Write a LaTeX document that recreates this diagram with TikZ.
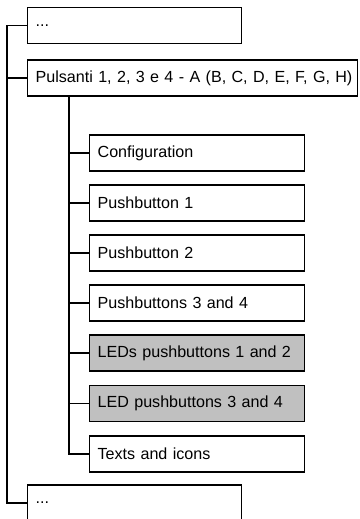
\documentclass[tikz,border=0pt]{standalone}
\usepackage{fontspec}
\setmainfont{Liberation Sans}
\usepackage{tikz}

\tikzset{
  menubox/.style={draw, line width=1.3pt, anchor=west, minimum height=36pt,
    inner xsep=8pt, inner ysep=0pt, align=left, text width=#1},
  menubox/.default=199pt,
  ledbox/.style={menubox, fill=ledgray},
  branch/.style={line width=1.3pt},
}
\definecolor{ledgray}{RGB}{192,192,192}

\begin{document}
\begin{tikzpicture}[x=1pt, y=-1pt, font=\fontsize{16.1}{19}\selectfont]
        \useasboundingbox (0,0) rectangle (359,519);
        % top level
        \node[menubox=198pt] (prev) at (27,25.5) {...};
        \node[menubox=314pt] (pulsanti) at (27,78) {\mbox{Pulsanti 1, 2, 3 e 4 - A (B, C, D, E, F, G, H)}};
        \node[menubox=198pt] (next) at (27,503) {...};
        % sub items
        \node[menubox] (config) at (89,153) {Configuration};
        \node[menubox] (push1) at (89,203) {Pushbutton 1};
        \node[menubox] (push2) at (89,253) {Pushbutton 2};
        \node[menubox] (push34) at (89,303) {Pushbuttons 3 and 4};
        \node[ledbox] (led12) at (89,353) {\mbox{LEDs pushbuttons 1 and 2}};
        \node[ledbox] (led34) at (89,403.5) {LED pushbuttons 3 and 4};
        \node[menubox] (texts) at (89,454) {Texts and icons};
        % tree lines
        \coordinate (trunk) at (7,0);
        \coordinate (sub) at (69,0);
        \draw[branch] (prev.west) -| (trunk |- pulsanti.west) |- (next.west);
        \draw[branch] (pulsanti.west) -- (pulsanti.west -| trunk);
        \draw[branch] (sub |- pulsanti.south) |- (texts.west);
        \foreach \n in {config,push1,push2,push34,led12,led34}
            \draw[branch] (\n.west) -- (\n.west -| sub);
    \end{tikzpicture}
\end{document}
